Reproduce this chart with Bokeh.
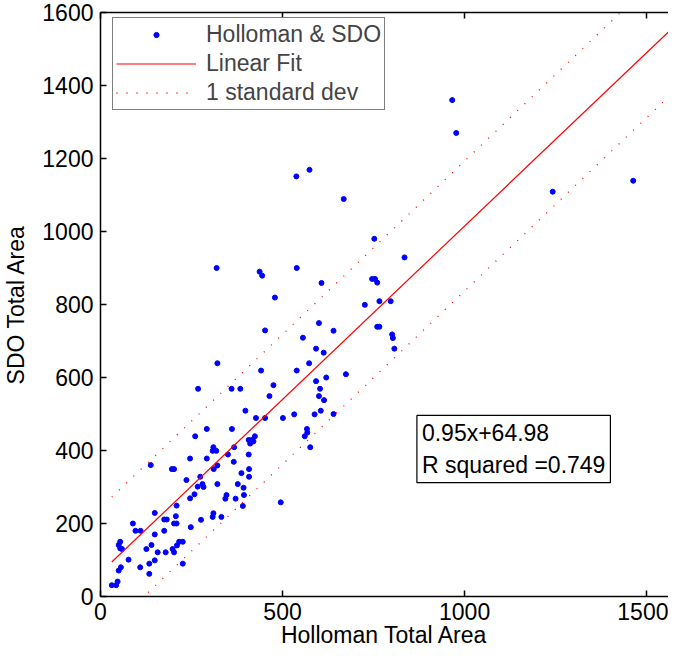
from bokeh.plotting import figure
from bokeh.models import Range1d, LinearAxis, Label, Legend, LegendItem, FixedTicker
from bokeh.embed import file_html
from bokeh.resources import INLINE

# Holloman total area (x) vs SDO total area (y)
holloman = [31, 43, 47, 50, 56, 54, 50, 54, 59, 77, 89, 96, 109, 110, 126, 138, 140, 134, 134, 149,
            149, 149, 157, 175, 175, 182, 179, 196, 202, 198, 202, 207, 209, 202, 209, 210, 216, 226, 226, 236,
            246, 246, 248, 258, 267, 274, 276, 280, 283, 292, 319, 437, 444, 539, 607, 479, 452, 600, 556, 592,
            613, 321, 573, 441, 539, 475, 592, 620, 268, 360, 384, 464, 603, 600, 614, 398, 605, 427, 452, 501,
            532, 588, 292, 361, 260, 567, 561, 568, 576, 310, 308, 318, 350, 367, 407, 411, 416, 420, 424, 366,
            407, 321, 311, 408, 408, 387, 321, 377, 393, 346, 343, 371, 394, 391, 495, 310, 308, 332, 574, 538,
            668, 752, 835, 746, 754, 760, 726, 766, 797, 640, 760, 766, 801, 803, 807, 674, 640, 1242, 1463, 966,
            977]
sdo = [31, 31, 41, 71, 80, 150, 141, 132, 130, 101, 200, 180, 80, 180, 130, 360, 141, 90, 62, 99,
       229, 170, 121, 180, 211, 211, 121, 349, 349, 130, 121, 220, 249, 200, 200, 140, 150, 150, 90, 319,
       378, 269, 190, 280, 301, 328, 210, 308, 300, 378, 900, 890, 879, 900, 859, 819, 729, 749, 709, 679,
       668, 639, 639, 619, 619, 579, 590, 600, 569, 569, 569, 549, 569, 549, 538, 509, 509, 489, 489, 489,
       499, 499, 459, 459, 439, 459, 439, 449, 409, 409, 399, 399, 389, 409, 429, 419, 429, 425, 439, 369,
       389, 359, 349, 349, 328, 338, 308, 308, 298, 278, 268, 268, 278, 248, 258, 228, 218, 218, 1169, 1151,
       1089, 980, 929, 870, 870, 860, 799, 809, 809, 728, 739, 739, 718, 708, 679, 609, 500, 1109, 1139, 1360,
       1270]

fit_slope = 0.95
fit_intercept = 64.98
r_squared = 0.749
std_dev = 178

x_ticks = [0, 500, 1000, 1500]
y_ticks = [0, 200, 400, 600, 800, 1000, 1200, 1400, 1600]
x_end = 1560
y_end = 1600

FONT = "Liberation Sans"
FS = "23px"

p = figure(width=668, height=651, output_backend="svg", toolbar_location=None,
           x_range=Range1d(0, x_end), y_range=Range1d(0, y_end),
           min_border_left=94, min_border_top=12, min_border_right=0, min_border_bottom=55)
p.outline_line_color = None
p.xgrid.visible = False
p.ygrid.visible = False
p.background_fill_color = "white"

fit_x = [min(holloman), 1600]
fit_y = [fit_slope * v + fit_intercept for v in fit_x]
up_y = [v + std_dev for v in fit_y]
lo_y = [v - std_dev for v in fit_y]

r_pts = p.scatter(holloman, sdo, size=5, color="#0000ff", line_color="#0000ff")
r_fit = p.line(fit_x, fit_y, line_color="#ff0000", line_width=1.2)
r_up = p.line(fit_x, up_y, line_color="#ff0000", line_width=1.3, line_dash="1 9")
p.line(fit_x, lo_y, line_color="#ff0000", line_width=1.3, line_dash="1 9")

for ax in (p.xaxis[0], p.yaxis[0]):
    ax.major_tick_in = 6
    ax.major_tick_out = 0
    ax.minor_tick_line_color = None
    ax.axis_line_width = 1.5
    ax.major_tick_line_width = 1.5
    ax.major_label_text_font = FONT
    ax.major_label_text_font_size = FS
    ax.major_label_text_color = "black"
    ax.axis_label_text_font = FONT
    ax.axis_label_text_font_size = FS
    ax.axis_label_text_font_style = "normal"
    ax.axis_label_text_color = "black"
    ax.axis_line_color = "black"
    ax.major_tick_line_color = "black"

p.xaxis[0].ticker = FixedTicker(ticks=x_ticks)
p.yaxis[0].ticker = FixedTicker(ticks=y_ticks)
p.xaxis[0].axis_label = "Holloman Total Area"
p.yaxis[0].axis_label = "SDO Total Area"
p.xaxis[0].major_label_standoff = 6
p.xaxis[0].axis_label_standoff = -1
p.yaxis[0].major_label_standoff = 7
p.yaxis[0].axis_label_standoff = 10

top = LinearAxis(ticker=FixedTicker(ticks=x_ticks), major_tick_in=6, major_tick_out=0,
                 minor_tick_line_color=None, major_label_text_font_size="1px",
                 major_label_overrides={t: "" for t in x_ticks},
                 major_label_standoff=0, axis_line_width=1.5, major_tick_line_width=1.5)
p.add_layout(top, "above")

legend = Legend(items=[LegendItem(label="Holloman & SDO", renderers=[r_pts]),
                       LegendItem(label="Linear Fit", renderers=[r_fit]),
                       LegendItem(label="1 standard dev", renderers=[r_up])],
                location=(12, 486), margin=0, padding=3, spacing=2,
                glyph_width=80, glyph_height=13, label_height=27, label_standoff=10,
                label_text_font=FONT, label_text_font_size=FS,
                border_line_color="black", border_line_width=1.2,
                background_fill_alpha=1.0)
p.add_layout(legend)

lab = Label(x=869, y=496, anchor="top_left",
            text="%.2fx+%.2f\nR squared =%.3f" % (fit_slope, fit_intercept, r_squared),
            text_font=FONT, text_font_size=FS, text_color="black",
            border_line_color="black", border_line_width=1.2,
            background_fill_color="white", padding=5)
p.add_layout(lab)

open("out.html", "w").write(file_html(p, INLINE))
